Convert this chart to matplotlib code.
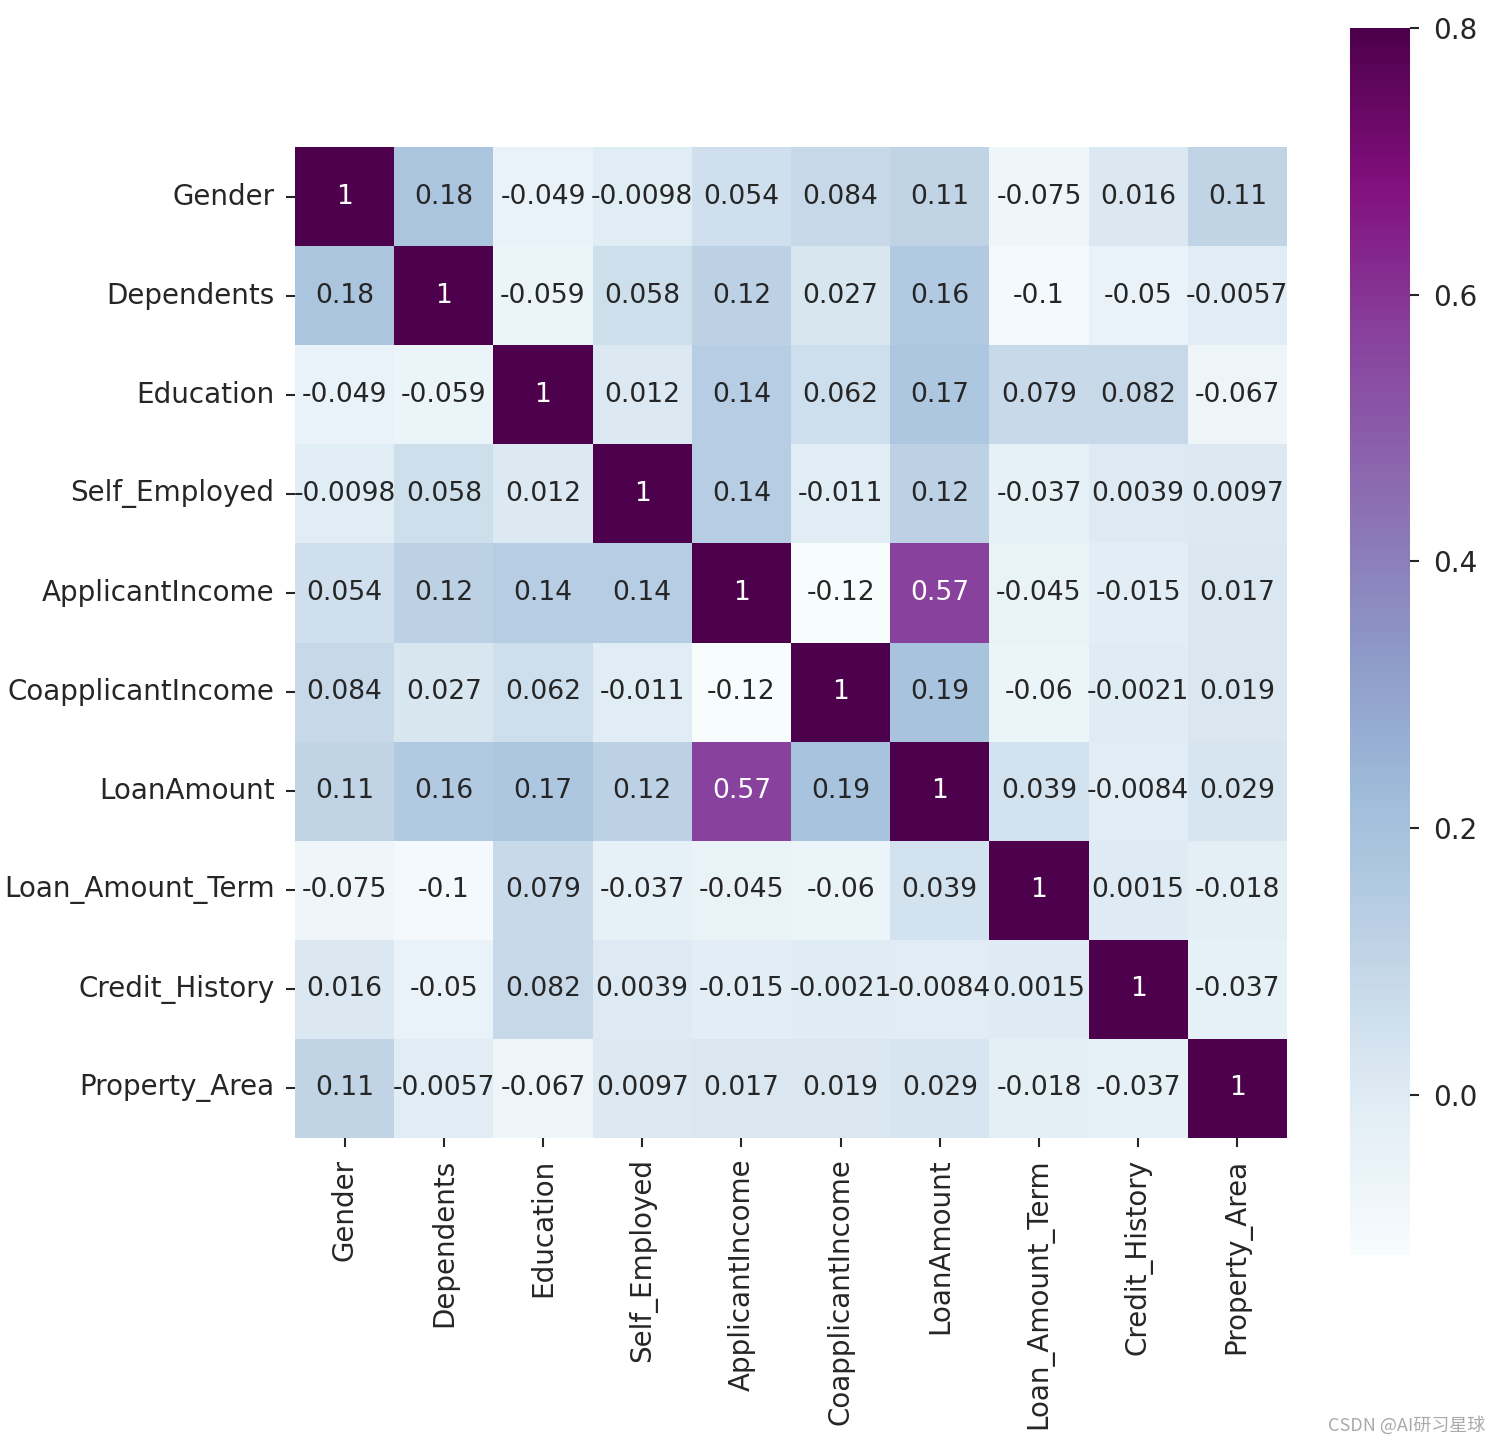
import matplotlib
matplotlib.use("Agg")
import matplotlib.pyplot as plt
import numpy as np
import seaborn as sns

labels = ["Gender", "Dependents", "Education", "Self_Employed", "ApplicantIncome",
          "CoapplicantIncome", "LoanAmount", "Loan_Amount_Term", "Credit_History",
          "Property_Area"]

gender = [1, 0.18, -0.049, -0.0098, 0.054, 0.084, 0.11, -0.075, 0.016, 0.11]
dependents = [0.18, 1, -0.059, 0.058, 0.12, 0.027, 0.16, -0.1, -0.05, -0.0057]
education = [-0.049, -0.059, 1, 0.012, 0.14, 0.062, 0.17, 0.079, 0.082, -0.067]
self_employed = [-0.0098, 0.058, 0.012, 1, 0.14, -0.011, 0.12, -0.037, 0.0039, 0.0097]
applicant_income = [0.054, 0.12, 0.14, 0.14, 1, -0.12, 0.57, -0.045, -0.015, 0.017]
coapplicant_income = [0.084, 0.027, 0.062, -0.011, -0.12, 1, 0.19, -0.06, -0.0021, 0.019]
loan_amount = [0.11, 0.16, 0.17, 0.12, 0.57, 0.19, 1, 0.039, -0.0084, 0.029]
loan_amount_term = [-0.075, -0.1, 0.079, -0.037, -0.045, -0.06, 0.039, 1, 0.0015, -0.018]
credit_history = [0.016, -0.05, 0.082, 0.0039, -0.015, -0.0021, -0.0084, 0.0015, 1, -0.037]
property_area = [0.11, -0.0057, -0.067, 0.0097, 0.017, 0.019, 0.029, -0.018, -0.037, 1]

corr = np.array([gender, dependents, education, self_employed, applicant_income,
                 coapplicant_income, loan_amount, loan_amount_term, credit_history,
                 property_area])

FS = 19.1
TFS = 20.0
plt.rcParams["font.family"] = ["DejaVu Sans"]
plt.rcParams["xtick.color"] = "#262626"
plt.rcParams["ytick.color"] = "#262626"
plt.rcParams["xtick.labelcolor"] = "#262626"
plt.rcParams["ytick.labelcolor"] = "#262626"

fig = plt.figure(figsize=(15, 14.46), dpi=100)
W, H = 1500, 1446
ax = fig.add_axes([295 / W, 1 - 1138 / H, (1287 - 295) / W, (1138 - 147) / H])
cax = fig.add_axes([1350 / W, 1 - 1255 / H, 60 / W, (1255 - 28) / H])

sns.heatmap(corr, ax=ax, cbar_ax=cax, vmax=0.8, cmap="BuPu", annot=True,
            annot_kws={"fontsize": FS}, xticklabels=labels, yticklabels=labels)

ax.tick_params(axis="both", labelsize=TFS, length=6.7, width=1.5, pad=8)
plt.setp(ax.get_xticklabels(), rotation=90)
plt.setp(ax.get_yticklabels(), rotation=0)
cax.tick_params(labelsize=TFS, length=6.7, width=1.5, pad=10)
cax.set_yticks([0.0, 0.2, 0.4, 0.6, 0.8])

fig.text(0.99, 0.008, "CSDN @AI研习星球", ha="right", va="bottom", fontsize=13,
         color="#aaaaaa", family=["Noto Sans CJK SC", "DejaVu Sans"])

fig.savefig("out.png", dpi=100)
